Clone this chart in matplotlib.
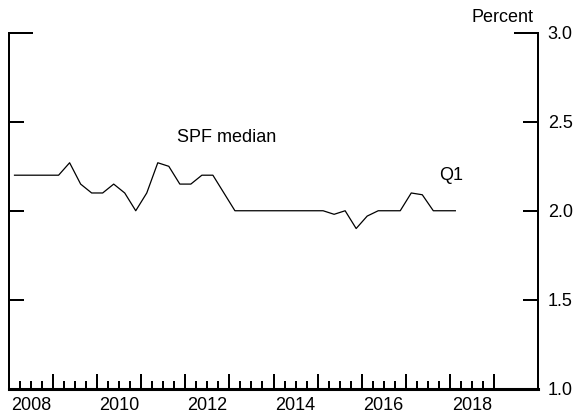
import matplotlib
matplotlib.use("Agg")
import matplotlib.pyplot as plt
import matplotlib.transforms as mtransforms
import numpy as np

plt.rcParams['font.family'] = ['Liberation Sans', 'DejaVu Sans']

# Quarterly data: 2008Q1 .. 2018Q1 (plotted at quarter midpoints)
start_year = 2008
spf_median = [2.2, 2.2, 2.2, 2.2,
              2.2, 2.27, 2.15, 2.1,
              2.1, 2.15, 2.1, 2.0,
              2.1, 2.27, 2.25, 2.15,
              2.15, 2.2, 2.2, 2.1,
              2.0, 2.0, 2.0, 2.0,
              2.0, 2.0, 2.0, 2.0,
              2.0, 1.98, 2.0, 1.9,
              1.97, 2.0, 2.0, 2.0,
              2.1, 2.09, 2.0, 2.0,
              2.0]
year_labels = ['2008', '2010', '2012', '2014', '2016', '2018']
y_ticks = [1.0, 1.5, 2.0, 2.5, 3.0]

t = start_year + np.arange(len(spf_median)) / 4.0 + 0.125

PX = 72 / 100.0  # points per pixel

fig = plt.figure(figsize=(5.76, 4.15), dpi=100)
ax = fig.add_axes([9/576, 1 - 388.5/415, (538-9)/576, (388.5-33)/415])

ax.plot(t, spf_median, color='black', lw=0.9)

ax.set_xlim(2008, 2020)
ax.set_ylim(1.0, 3.0)

for s in ['left', 'right', 'bottom']:
    ax.spines[s].set_visible(True)
    ax.spines[s].set_linewidth(2 * PX)
    ax.spines[s].set_color('black')
ax.spines['top'].set_visible(False)
ax.spines['bottom'].set_linewidth(2.2)

# x ticks
ax.set_xticks(np.arange(2009, 2020))
ax.set_xticks(np.arange(2008.25, 2019.0, 0.25), minor=True)
ax.tick_params(axis='x', which='major', direction='in', length=15 * PX, width=2 * PX, labelbottom=False)
ax.tick_params(axis='x', which='minor', direction='in', length=8 * PX, width=2 * PX)

trans = mtransforms.blended_transform_factory(ax.transData, ax.transAxes)
for lab in year_labels:
    ax.text(int(lab) + 0.5, -0.025, lab, transform=trans, ha='center', va='top', fontsize=13)

# y ticks
ax.set_yticks(y_ticks)
ax.set_yticklabels([f'{v:.1f}' for v in y_ticks])
ax.tick_params(axis='y', which='major', direction='in', length=15 * PX, width=2 * PX,
               left=True, right=True, labelleft=False, labelright=True,
               labelsize=13, pad=7)
ticks = ax.yaxis.get_major_ticks()
ticks[-1].tick1line.set_markersize(24 * PX)
ticks[-1].tick2line.set_markersize(24 * PX)
ticks[0].tick1line.set_visible(False)
ticks[0].tick2line.set_visible(False)

ax.text(2012.94, 2.41, 'SPF median', ha='center', va='center', fontsize=13)
ax.text(2018.04, 2.20, 'Q1', ha='center', va='center', fontsize=13)
ax.text(2019.2, 3.09, 'Percent', ha='center', va='center', fontsize=13, clip_on=False)

fig.savefig('out.png', dpi=100)
